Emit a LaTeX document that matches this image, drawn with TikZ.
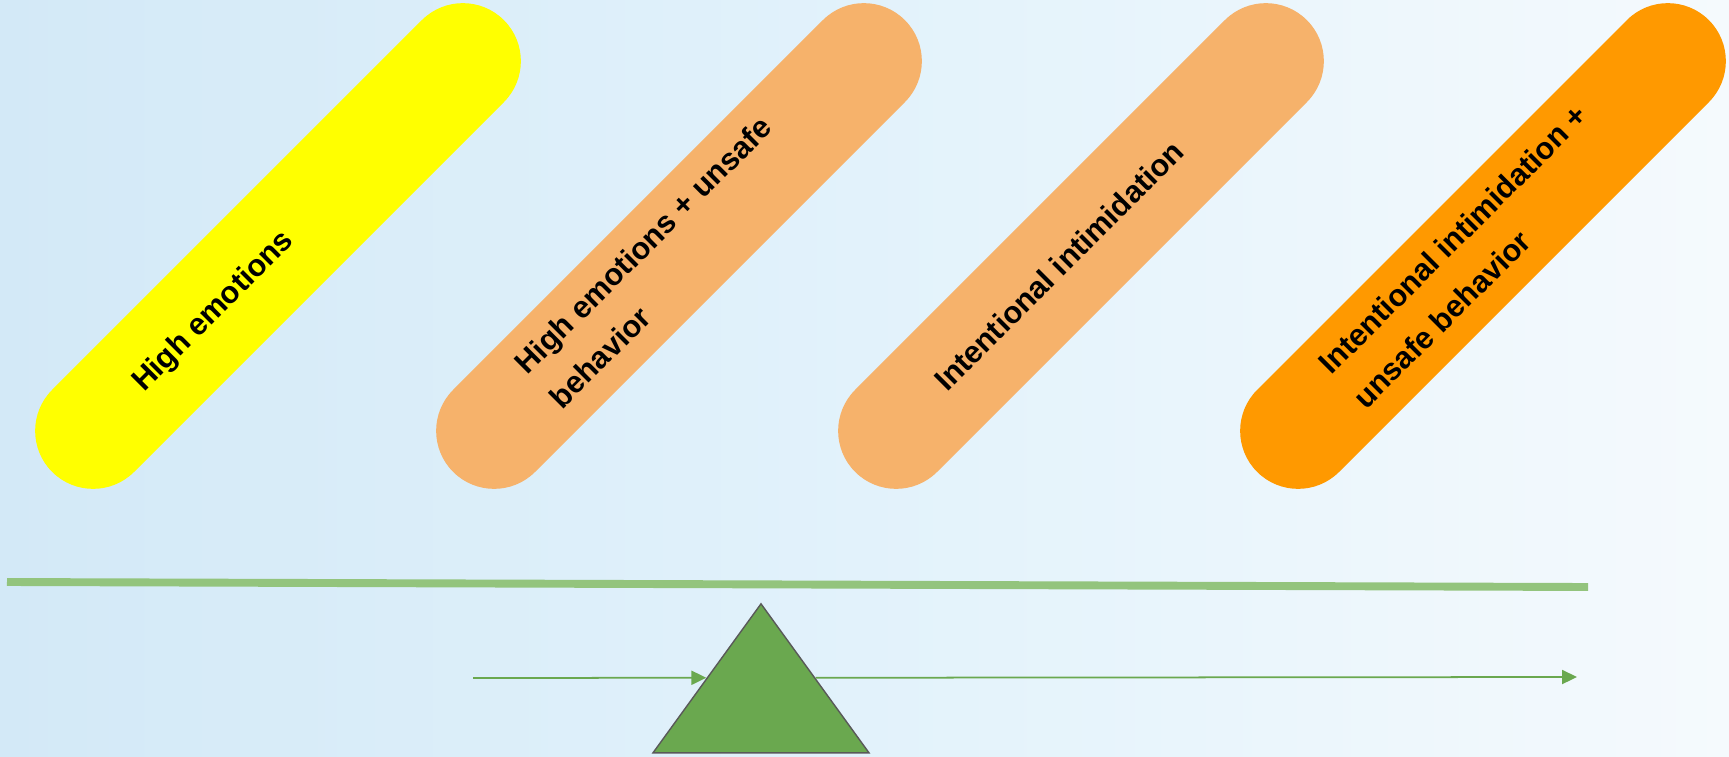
\documentclass[tikz,border=0pt]{standalone}
\usepackage{fontspec}
\setmainfont{Liberation Sans}
\usepackage{tikz}
\usetikzlibrary{shapes.misc,shapes.geometric,arrows.meta,positioning,calc}

\definecolor{bgLeft}{RGB}{211,233,247}
\definecolor{bgMid}{RGB}{226,242,251}
\definecolor{bgRight}{RGB}{245,250,253}
\definecolor{emoYellow}{RGB}{255,255,0}
\definecolor{mildOrange}{RGB}{246,178,107}
\definecolor{hotOrange}{RGB}{255,153,0}
\definecolor{fulcrumGreen}{RGB}{106,168,79}
\definecolor{beamGreen}{RGB}{147,196,125}
\definecolor{edgeGray}{RGB}{89,89,89}

\tikzset{
  pill/.style={rounded rectangle, rotate=45, minimum width=12.78cm, minimum height=2.32cm, inner sep=0pt},
  pilltext/.style={rotate=45, inner sep=0pt, align=left, text=black, font=\fontsize{17.5}{27.8}\selectfont\bfseries},
  fulcrum/.style={isosceles triangle, isosceles triangle stretches, rotate=90, minimum width=4.32cm, minimum height=2.98cm, inner sep=0pt, fill=fulcrumGreen, draw=edgeGray, line width=0.8pt},
  flow/.style={fulcrumGreen, line width=1pt, -{Triangle[length=8.5pt,width=8pt]}},
  beam/.style={beamGreen, line width=4.5pt}
}

\begin{document}
\begin{tikzpicture}[x=0.02cm, y=-0.02cm]
  % background
  \fill[left color=bgLeft, right color=bgRight, middle color=bgMid] (0,0) rectangle (1729,757);
  \useasboundingbox (0,0) rectangle (1729,757);

  % the four pills
  \node[pill, fill=emoYellow] (p1) at (278,246) {};
  \node[pilltext, anchor=base west] (t1) at ($(p1.west)!2.6cm!(p1.east) + (0,13)$) {High emotions};

  \node[pill, fill=mildOrange] (p2) at (679,246) {};
  \node[pilltext, anchor=base west] (t2) at ($(p2.west)!2.6cm!(p2.east) + (17.3,30.3)$)
    {High emotions + unsafe\\behavior};

  \node[pill, fill=mildOrange] (p3) at (1081,246) {};
  \node[pilltext, anchor=base west] (t3) at ($(p3.west)!2.6cm!(p3.east) + (0,13)$) {Intentional intimidation};

  \node[pill, fill=hotOrange] (p4) at (1483,246) {};
  \node[pilltext, anchor=base west] (t4) at ($(p4.west)!2.6cm!(p4.east) + (17.3,30.3)$)
    {Intentional intimidation +\\unsafe behavior};

  % the balance
  \coordinate (barL) at (7,582);
  \coordinate (barR) at (1588,587);
  \draw[beam] (barL) -- (barR);

  \node[fulcrum, anchor=apex] (tri) at (761,602) {};

  \coordinate (lstart) at (473,678);
  \coordinate (rend) at (1577,677);
  \draw[flow] (lstart) -- (tri.left side);
  \draw[flow] (tri.right side) -- (rend);
\end{tikzpicture}
\end{document}
